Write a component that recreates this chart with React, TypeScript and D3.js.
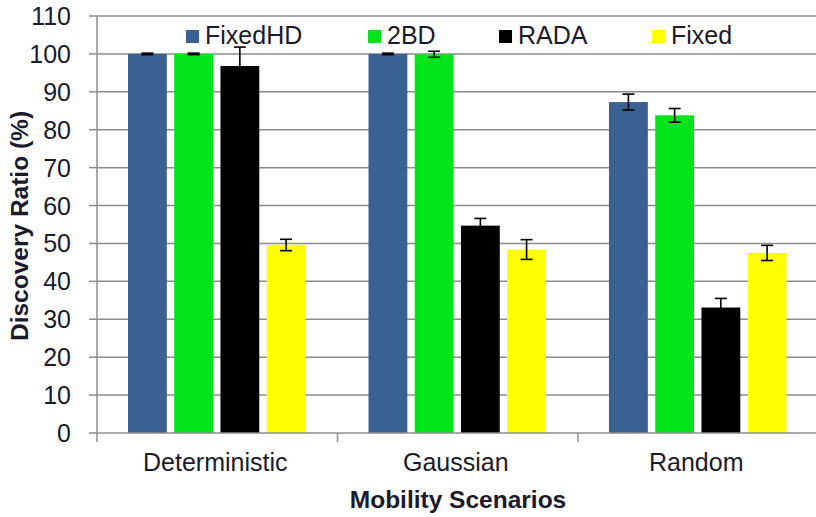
import React from "react";
import * as d3 from "d3";

const categories = ["Deterministic", "Gaussian", "Random"];
const seriesNames = ["FixedHD", "2BD", "RADA", "Fixed"];
const seriesColors = ["#3A6191", "#00E51A", "#000000", "#FFFF00"];
const fixedHD = [100, 100, 87.3];
const fixedHDErr = [0.2, 0.2, 2.1];
const bd2 = [100, 99.9, 83.8];
const bd2Err = [0.2, 0.8, 1.8];
const rada = [96.8, 54.7, 33.1];
const radaErr = [5, 1.9, 2.4];
const fixed = [49.6, 48.4, 47.5];
const fixedErr = [1.5, 2.6, 2.0];
const yTicks = [0, 10, 20, 30, 40, 50, 60, 70, 80, 90, 100, 110];

const seriesValues = [fixedHD, bd2, rada, fixed];
const seriesErrors = [fixedHDErr, bd2Err, radaErr, fixedErr];

export default function App() {
  const W = 816, H = 517;
  const left = 97, right = 818.5, top = 16, bottom = 433;
  const x = d3.scaleBand<string>().domain(categories).range([left, right]).paddingInner(0).paddingOuter(0);
  const gw = x.bandwidth();
  const xs = d3.scaleBand<string>().domain(seriesNames).range([31, gw - 32]).paddingInner(0.16).paddingOuter(0);
  const y = d3.scaleLinear().domain([0, 110]).range([bottom, top]);
  const font = "Arial, 'Liberation Sans', sans-serif";
  const textColor = "#1a1a2e";
  const gridColor = "#8c8c8c";

  const legendX = [186, 368, 499, 652];

  return (
    <svg width={W} height={H} style={{ position: "absolute", left: 0, top: 0, background: "#fff" }} fontFamily={font}>
      {/* gridlines */}
      {yTicks.filter((t) => t > 0).map((t) => (
        <line key={"g" + t} x1={left} x2={W} y1={y(t)} y2={y(t)} stroke={gridColor} strokeWidth={1.5} />
      ))}
      {/* y ticks */}
      {yTicks.map((t) => (
        <g key={"yt" + t}>
          <line x1={left - 8} x2={left} y1={y(t)} y2={y(t)} stroke={gridColor} strokeWidth={1.5} />
          <text x={71} y={y(t)} dy="0.36em" textAnchor="end" fontSize={25} fill={textColor}>{t}</text>
        </g>
      ))}
      {/* bars */}
      {categories.map((c, ci) =>
        seriesNames.map((s, si) => {
          const v = seriesValues[si][ci];
          const bx = (x(c) as number) + (xs(s) as number);
          return (
            <rect key={c + s} x={bx} y={y(v)} width={xs.bandwidth()} height={y(0) - y(v)} fill={seriesColors[si]} />
          );
        })
      )}
      {/* error bars */}
      {categories.map((c, ci) =>
        seriesNames.map((s, si) => {
          const v = seriesValues[si][ci];
          const e = seriesErrors[si][ci];
          const cx = (x(c) as number) + (xs(s) as number) + xs.bandwidth() / 2;
          return (
            <g key={"e" + c + s} stroke="#000" strokeWidth={1.6}>
              <line x1={cx} x2={cx} y1={y(v + e)} y2={y(v - e)} />
              <line x1={cx - 6} x2={cx + 6} y1={y(v + e)} y2={y(v + e)} />
              <line x1={cx - 6} x2={cx + 6} y1={y(v - e)} y2={y(v - e)} />
            </g>
          );
        })
      )}
      {/* axes */}
      <line x1={left} x2={left} y1={top} y2={bottom} stroke={gridColor} strokeWidth={1.5} />
      <line x1={left} x2={W} y1={bottom} y2={bottom} stroke={gridColor} strokeWidth={1.5} />
      {categories.map((c) => (
        <line key={"xt" + c} x1={x(c) as number} x2={x(c) as number} y1={bottom} y2={bottom + 9} stroke={gridColor} strokeWidth={1.5} />
      ))}
      {categories.map((c) => (
        <text key={"xl" + c} x={(x(c) as number) + gw / 2 - 2} y={471} textAnchor="middle" fontSize={25} fill={textColor}>{c}</text>
      ))}
      {/* axis titles */}
      <text x={458} y={508} textAnchor="middle" fontSize={24.5} fontWeight="bold" fill={textColor}>Mobility Scenarios</text>
      <text transform="translate(28,226) rotate(-90)" textAnchor="middle" fontSize={24.5} fontWeight="bold" fill={textColor}>Discovery Ratio (%)</text>
      {/* legend */}
      {seriesNames.map((s, si) => (
        <g key={"lg" + s}>
          <rect x={legendX[si]} y={30} width={13} height={13} fill={seriesColors[si]} />
          <text x={legendX[si] + 19} y={44} fontSize={25} fill={textColor}>{s}</text>
        </g>
      ))}
    </svg>
  );
}
